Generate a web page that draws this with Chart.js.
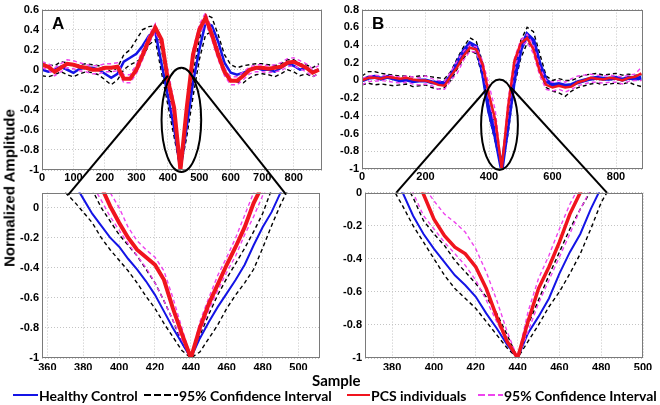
<!DOCTYPE html>
<html>
<head>
<meta charset="utf-8">
<script src="https://cdn.jsdelivr.net/npm/chart.js@4.4.1/dist/chart.umd.min.js"></script>
<style>
  body { margin: 0; background: #fff; }
  #wrap { position: relative; width: 660px; height: 405px; overflow: hidden; background: #fff; }
  #wrap canvas { position: absolute; }
  .txt { position: absolute; font-family: Lato, "Liberation Sans", sans-serif; font-weight: bold; color: #000; white-space: nowrap; }
  #ylab { left: 9px; top: 188px; font-family: "Liberation Sans", Arial, sans-serif; font-size: 15px;
          transform: translate(-50%, -50%) rotate(-90deg); }
  #xlab { left: 312px; top: 371px; font-size: 15px; }
  .leg { position: absolute; top: 386px; height: 18px; display: flex; align-items: center; font-family: Lato, sans-serif; font-weight: bold; font-size: 14px; white-space: nowrap; }
  .leg svg { margin-right: 1px; }
</style>
</head>
<body>
<div id="wrap">
  <canvas id="topA" width="330" height="182" style="left:0;top:0"></canvas>
  <canvas id="topB" width="330" height="181" style="left:330px;top:0"></canvas>
  <canvas id="zoomA" width="330" height="187" style="left:0;top:183px"></canvas>
  <canvas id="zoomB" width="330" height="187" style="left:330px;top:183px"></canvas>
  <canvas id="overlay" width="660" height="405" style="left:0;top:0"></canvas>
  <div id="ylab" class="txt">Normalized Amplitude</div>
  <div id="xlab" class="txt">Sample</div>
  <div id="legend"></div>
</div>
<script>
// ---- data ----
const sampleTop = [0,20,40,60,80,100,120,140,160,180,200,220,240,260,280,300,320,340,360,380,
  400,420,440,460,480,500,520,540,560,580,600,620,640,660,680,700,720,740,760,780,800,820,840,860,880];

const healthyA   = [0,-0.02,0,0.03,0,-0.03,0.01,0.02,0.02,0, -0.04,-0.08,-0.04,0.08,0.12,0.16,0.24,0.34,0.38,0.06,
  -0.26,-0.58,-1,-0.57,-0.13,0.2,0.47,0.44,0.28,0.07, -0.03,-0.05,-0.03,0,0.02,0,0,-0.02,0.02,0.06, 0.04,0,0.02,-0.02,0];
const healthyHiA = [0.06,0.05,0.04,0.08,0.07,0.04,0.05,0.06,0.05,0.04, 0.02,-0.02,0.02,0.15,0.2,0.3,0.4,0.43,0.44,0.2,
  -0.18,-0.5,-1,-0.47,-0.04,0.3,0.55,0.52,0.35,0.15, 0.05,0.02,0.04,0.05,0.06,0.06,0.05,0.04,0.06,0.1, 0.1,0.06,0.05,0.02,0.06];
const healthyLoA = [-0.06,-0.07,-0.05,-0.02,-0.05,-0.07,-0.04,-0.02,-0.03,-0.05, -0.1,-0.15,-0.1,0,0.05,0.08,0.12,0.25,0.3,-0.03,
  -0.35,-0.67,-1,-0.67,-0.27,0.1,0.35,0.38,0.2,0, -0.1,-0.12,-0.13,-0.08,-0.05,-0.04,-0.05,-0.07,-0.04,0, -0.02,-0.06,-0.04,-0.07,-0.04];
const pcsA       = [0.05,0.03,-0.02,0.02,0.06,0.05,0.03,0.02,0,0, 0.02,0.02,0.03,-0.09,-0.09,0,0.15,0.3,0.42,0.3,
  -0.1,-0.38,-1,-0.38,0.15,0.4,0.52,0.35,0.15,-0.02, -0.11,-0.11,-0.06,0,0.02,0.02,0.01,0.02,0.03,0.07, 0.08,0.05,0.02,-0.03,0];
const pcsHiA     = [0.08,0.06,0.02,0.06,0.1,0.09,0.07,0.05,0.04,0.04, 0.06,0.06,0.07,-0.05,-0.05,0.05,0.2,0.34,0.46,0.28,
  0,-0.33,-1,-0.33,0.2,0.45,0.57,0.4,0.2,0.02, -0.07,-0.07,-0.02,0.03,0.05,0.05,0.04,0.05,0.07,0.11, 0.12,0.09,0.06,0.01,0.04];
const pcsLoA     = [0.02,0,-0.06,-0.02,0.02,0.01,-0.01,-0.02,-0.04,-0.04, -0.02,-0.02,-0.01,-0.13,-0.13,-0.04,0.1,0.26,0.38,0.24,
  -0.15,-0.5,-1,-0.43,0.08,0.35,0.47,0.3,0.1,-0.06, -0.15,-0.15,-0.1,-0.04,-0.02,-0.02,-0.03,-0.02,-0.01,0.03, 0.04,0.01,-0.02,-0.07,-0.04];

const healthyB   = [0,0.03,0.04,0.02,0.04,0.02,0,0.01,-0.01,0, 0,-0.02,-0.03,-0.03,0.05,0.2,0.33,0.42,0.38,0.1,
  -0.34,-0.63,-1,-0.49,0.03,0.35,0.52,0.45,0.18,0, -0.05,-0.04,-0.06,-0.05,-0.02,0,0.02,0.03,0.02,0.02, 0.03,0.01,0.03,0.02,0.03];
const healthyHiB = [0.05,0.1,0.1,0.08,0.07,0.06,0.05,0.05,0.04,0.05, 0.05,0.04,0.03,0.02,0.1,0.25,0.38,0.48,0.44,0.2,
  -0.25,-0.55,-1,-0.36,0.12,0.45,0.6,0.55,0.3,0.05, 0,0.02,0,0,0.03,0.06,0.07,0.08,0.06,0.07, 0.08,0.06,0.07,0.06,0.06];
const healthyLoB = [-0.05,-0.03,-0.05,-0.04,-0.05,-0.06,-0.05,-0.04,-0.07,-0.06, -0.05,-0.08,-0.1,-0.08,0,0.13,0.25,0.34,0.3,0.03,
  -0.4,-0.7,-1,-0.6,-0.06,0.25,0.42,0.38,0.1,-0.08, -0.12,-0.14,-0.18,-0.12,-0.08,-0.06,-0.04,-0.03,-0.05,-0.04, -0.03,-0.04,-0.02,-0.05,-0.07];
const pcsB       = [0,0.03,0.03,0.02,0.04,0.03,0.02,0.03,0.01,0, 0,-0.02,-0.05,-0.06,0.05,0.15,0.28,0.37,0.35,0.18,
  -0.16,-0.45,-1,-0.3,0.22,0.42,0.48,0.35,0.1,-0.05, -0.08,-0.06,-0.08,-0.07,-0.02,0,0.03,0.02,0.01,0.03, 0.02,0,0.03,0.04,0.08];
const pcsHiB     = [0.02,0.05,0.06,0.05,0.06,0.05,0.04,0.05,0.04,0.03, 0.05,0.02,0,-0.01,0.1,0.22,0.33,0.4,0.38,0.22,
  -0.05,-0.34,-1,-0.22,0.25,0.46,0.52,0.4,0.15,0, -0.02,0,-0.02,0.02,0.05,0.06,0.07,0.06,0.05,0.06, 0.05,0.04,0.06,0.07,0.15];
const pcsLoB     = [-0.05,-0.01,-0.01,0,-0.01,-0.02,-0.03,-0.02,-0.04,-0.05, -0.04,-0.06,-0.1,-0.1,0,0.08,0.23,0.33,0.32,0.12,
  -0.22,-0.53,-1,-0.39,0.12,0.38,0.44,0.3,0.05,-0.1, -0.12,-0.1,-0.13,-0.1,-0.06,-0.04,-0.02,-0.02,-0.03,-0.02, -0.02,-0.04,-0.01,0,0];

// zoomed part around the trough
const sampleZoom = [370,375,380,385,390,395,400,405,410,415,420,425,430,435,440,445,450,455,460,465,470,475,480,485,490,495];

const zHealthyA   = [0.28,0.16,0.06,-0.04,-0.12,-0.2,-0.26,-0.34,-0.41,-0.49,-0.58,-0.69,-0.8,-0.9,-1,-0.87,-0.76,-0.66,-0.57,-0.48,-0.38,-0.25,-0.13,-0.03,0.1,0.2];
const zHealthyHiA = [0.4,0.3,0.2,0.12,0,-0.09,-0.18,-0.25,-0.32,-0.41,-0.5,-0.62,-0.75,-0.9,-1,-0.85,-0.71,-0.58,-0.47,-0.37,-0.27,-0.16,-0.04,0.12,0.2,0.3];
const zHealthyLoA = [0.1,0.04,-0.03,-0.1,-0.2,-0.28,-0.35,-0.42,-0.5,-0.59,-0.67,-0.77,-0.86,-0.95,-1,-0.96,-0.87,-0.78,-0.67,-0.58,-0.5,-0.41,-0.27,-0.12,0.02,0.14];
const zPcsA       = [0.5,0.4,0.32,0.24,0.14,0.01,-0.1,-0.2,-0.28,-0.33,-0.38,-0.48,-0.67,-0.84,-1,-0.8,-0.64,-0.51,-0.38,-0.26,-0.13,0.03,0.15,0.25,0.35,0.45];
const zPcsHiA     = [0.45,0.36,0.28,0.2,0.15,0.1,0,-0.13,-0.22,-0.28,-0.33,-0.42,-0.6,-0.8,-1,-0.76,-0.6,-0.45,-0.33,-0.2,-0.05,0.1,0.2,0.3,0.4,0.5];
const zPcsLoA     = [0.4,0.32,0.24,0.15,0.05,-0.06,-0.15,-0.24,-0.32,-0.4,-0.5,-0.62,-0.75,-0.88,-1,-0.83,-0.68,-0.55,-0.43,-0.32,-0.18,-0.06,0.08,0.18,0.28,0.38];

const zHealthyB   = [0.3,0.2,0.1,0,-0.14,-0.25,-0.34,-0.42,-0.5,-0.56,-0.63,-0.73,-0.82,-0.92,-1,-0.85,-0.75,-0.64,-0.49,-0.36,-0.25,-0.1,0.03,0.13,0.23,0.33];
const zHealthyHiB = [0.4,0.3,0.2,0.08,-0.03,-0.17,-0.25,-0.32,-0.41,-0.48,-0.55,-0.63,-0.73,-0.86,-1,-0.8,-0.65,-0.5,-0.36,-0.22,-0.1,0.01,0.12,0.22,0.3,0.4];
const zHealthyLoB = [0.3,0.2,0.03,-0.08,-0.2,-0.3,-0.4,-0.5,-0.58,-0.64,-0.7,-0.78,-0.86,-0.94,-1,-0.9,-0.8,-0.69,-0.6,-0.49,-0.37,-0.22,-0.06,0.05,0.15,0.25];
const zPcsB       = [0.5,0.4,0.3,0.22,0.13,-0.01,-0.16,-0.26,-0.33,-0.37,-0.45,-0.58,-0.75,-0.9,-1,-0.78,-0.58,-0.45,-0.3,-0.13,0,0.12,0.22,0.32,0.42,0.52];
const zPcsHiB     = [0.4,0.32,0.25,0.18,0.12,0.04,-0.05,-0.13,-0.18,-0.24,-0.34,-0.48,-0.65,-0.84,-1,-0.72,-0.52,-0.38,-0.22,-0.07,0.05,0.15,0.25,0.35,0.45,0.55];
const zPcsLoB     = [0.3,0.2,0.12,0.06,0,-0.14,-0.22,-0.3,-0.37,-0.44,-0.53,-0.65,-0.78,-0.9,-1,-0.84,-0.67,-0.53,-0.39,-0.25,-0.1,0.02,0.12,0.22,0.32,0.42];

// tick labels
const xTicksTopA  = [0,100,200,300,400,500,600,700,800];
const xTicksTopB  = [0,200,400,600,800];
const yTicksTopA  = [-1,-0.8,-0.6,-0.4,-0.2,0,0.2,0.4,0.6];
const yTicksTopB  = [-1,-0.8,-0.6,-0.4,-0.2,0,0.2,0.4,0.6,0.8];
const xTicksZoomA = [360,380,400,420,440,460,480,500];
const xTicksZoomB = [380,400,420,440,460,480,500];
const yTicksZoom  = [-1,-0.8,-0.6,-0.4,-0.2,0];

const legendLabels = ['Healthy Control', '95% Confidence Interval', 'PCS individuals', '95% Confidence Interval'];

// ---- styling ----
const BLUE = '#1414e6', BLACK = '#000', RED = '#f0141e', MAGENTA = '#ee44ee';
const tickFont = { family: '"Liberation Sans", Arial, sans-serif', size: 11, weight: 'bold' };

function pts(xs, ys) { return xs.map((x, i) => ({ x: x, y: ys[i] })); }

function line(label, xs, ys, color, width, dash, order) {
  return { label, data: pts(xs, ys), borderColor: color, backgroundColor: color, borderWidth: width,
    borderDash: dash, pointRadius: 0, tension: 0, fill: false, order };
}

const framePlugin = {
  id: 'frame',
  afterDraw(chart, args, opts) {
    const { ctx, chartArea: a } = chart;
    ctx.save();
    ctx.strokeStyle = '#7a7a7a';
    ctx.lineWidth = 1;
    ctx.strokeRect(Math.round(a.left) + 0.5, Math.round(a.top) + 0.5, Math.round(a.width) - 1, Math.round(a.height) - 1);
    if (opts.letter) {
      ctx.fillStyle = '#000';
      ctx.font = 'bold 17px "Liberation Sans", Arial, sans-serif';
      ctx.fillText(opts.letter, a.left + 10, a.top + 19);
    }
    ctx.restore();
  }
};

function makeChart(id, p) {
  const dsets = [
    line(legendLabels[1], p.xs, p.hLo, BLACK, p.wCi, [4, 3], 3),
    line(legendLabels[1], p.xs, p.hHi, BLACK, p.wCi, [4, 3], 3),
    line(legendLabels[0], p.xs, p.h, BLUE, p.wBlue, [], 2),
    line(legendLabels[3], p.xs, p.pLo, MAGENTA, p.wCi, [4, 3], 1),
    line(legendLabels[3], p.xs, p.pHi, MAGENTA, p.wCi, [4, 3], 1),
    line(legendLabels[2], p.xs, p.p, RED, p.wRed, [], 0)
  ];
  const axisBase = (min, max, ticks, pad) => ({
    type: 'linear', min, max,
    afterBuildTicks: ax => { ax.ticks = ticks.map(v => ({ value: v })); },
    ticks: { font: tickFont, color: '#000', padding: pad, autoSkip: false, maxRotation: 0, callback: v => String(v) },
    grid: { color: '#c4c4c4', lineWidth: 1, drawTicks: false },
    border: { display: false, dash: [1, 2] }
  });
  const x = axisBase(p.xMin, p.xMax, p.xTicks, p.xPad);
  x.afterFit = s => { s.height = p.xH; };
  const y = axisBase(p.yMin, p.yMax, p.yTicks, 3);
  y.afterFit = s => { s.width = p.yW; };
  return new Chart(document.getElementById(id), {
    type: 'line',
    data: { datasets: dsets },
    options: {
      responsive: false, animation: false, events: [],
      layout: { padding: p.pad },
      scales: { x, y },
      plugins: { legend: { display: false }, tooltip: { enabled: false }, frame: { letter: p.letter } }
    },
    plugins: [framePlugin]
  });
}

const chTopA = makeChart('topA', {
  xs: sampleTop, h: healthyA, hHi: healthyHiA, hLo: healthyLoA, p: pcsA, pHi: pcsHiA, pLo: pcsLoA,
  xMin: 0, xMax: 890, xTicks: xTicksTopA, yMin: -1, yMax: 0.6, yTicks: yTicksTopA,
  yW: 42, xH: 12, xPad: 1, pad: { top: 7, right: 8, left: 0, bottom: 0 },
  wBlue: 2.5, wRed: 4, wCi: 1.4, letter: 'A'
});
const chTopB = makeChart('topB', {
  xs: sampleTop, h: healthyB, hHi: healthyHiB, hLo: healthyLoB, p: pcsB, pHi: pcsHiB, pLo: pcsLoB,
  xMin: 0, xMax: 885, xTicks: xTicksTopB, yMin: -1, yMax: 0.8, yTicks: yTicksTopB,
  yW: 32, xH: 12, xPad: 1, pad: { top: 4, right: 17, left: 0, bottom: 0 },
  wBlue: 4, wRed: 2.5, wCi: 1.4, letter: 'B'
});
const chZoomA = makeChart('zoomA', {
  xs: sampleZoom, h: zHealthyA, hHi: zHealthyHiA, hLo: zHealthyLoA, p: zPcsA, pHi: zPcsHiA, pLo: zPcsLoA,
  xMin: 357, xMax: 512, xTicks: xTicksZoomA, yMin: -1, yMax: 0.1, yTicks: yTicksZoom,
  yW: 42, xH: 12, xPad: 3, pad: { top: 2, right: 10, left: 0, bottom: 0 },
  wBlue: 2, wRed: 4, wCi: 1.4, letter: ''
});
const chZoomB = makeChart('zoomB', {
  xs: sampleZoom, h: zHealthyB, hHi: zHealthyHiB, hLo: zHealthyLoB, p: zPcsB, pHi: zPcsHiB, pLo: zPcsLoB,
  xMin: 367, xMax: 500, xTicks: xTicksZoomB, yMin: -1, yMax: 0, yTicks: yTicksZoom,
  yW: 35, xH: 12, xPad: 3, pad: { top: 2, right: 17, left: 0, bottom: 0 },
  wBlue: 2, wRed: 3.5, wCi: 1.4, letter: ''
});

// ---- zoom ellipse and connector lines (data coordinates) ----
function pagePt(chart, x, y) {
  const c = chart.canvas;
  return [c.offsetLeft + chart.scales.x.getPixelForValue(x), c.offsetTop + chart.scales.y.getPixelForValue(y)];
}

function drawZoom(ctx, top, bottom, z) {
  const c = pagePt(top, z.cx, z.cy);
  const ex = pagePt(top, z.cx + z.rx, z.cy + z.ry);
  ctx.beginPath();
  ctx.ellipse(c[0], c[1], Math.abs(ex[0] - c[0]), Math.abs(ex[1] - c[1]), 0, 0, Math.PI * 2);
  ctx.stroke();
  z.links.forEach(l => {
    const a = pagePt(top, l[0], l[1]);
    const b = pagePt(bottom, l[2], l[3]);
    ctx.beginPath();
    ctx.moveTo(a[0], a[1]);
    ctx.lineTo(b[0], b[1]);
    ctx.stroke();
  });
}

const octx = document.getElementById('overlay').getContext('2d');
octx.strokeStyle = '#000';
octx.lineWidth = 2;
drawZoom(octx, chTopA, chZoomA, { cx: 443, cy: -0.5, rx: 63, ry: 0.52,
  links: [[400, -0.06, 371.6, 0.085], [480, -0.07, 492.9, 0.09]] });
drawZoom(octx, chTopB, chZoomB, { cx: 433, cy: -0.5, rx: 58, ry: 0.51,
  links: [[391, -0.105, 382, 0], [469, -0.08, 482.7, 0]] });

// ---- legend ----
const legendStyle = [
  { left: 13, color: BLUE, dash: '', w: 25 },
  { left: 144, color: BLACK, dash: '7,3', w: 34 },
  { left: 347, color: RED, dash: '', w: 23 },
  { left: 478, color: MAGENTA, dash: '7,3', w: 25 }
];
const legend = document.getElementById('legend');
legendLabels.forEach((lab, i) => {
  const s = legendStyle[i];
  const d = document.createElement('div');
  d.className = 'leg';
  d.style.left = s.left + 'px';
  d.innerHTML = '<svg width="' + s.w + '" height="6"><line x1="0" y1="3" x2="' + s.w + '" y2="3" stroke="' + s.color +
    '" stroke-width="2" stroke-dasharray="' + s.dash + '"/></svg><span></span>';
  d.querySelector('span').textContent = lab;
  legend.appendChild(d);
});
</script>
</body>
</html>
